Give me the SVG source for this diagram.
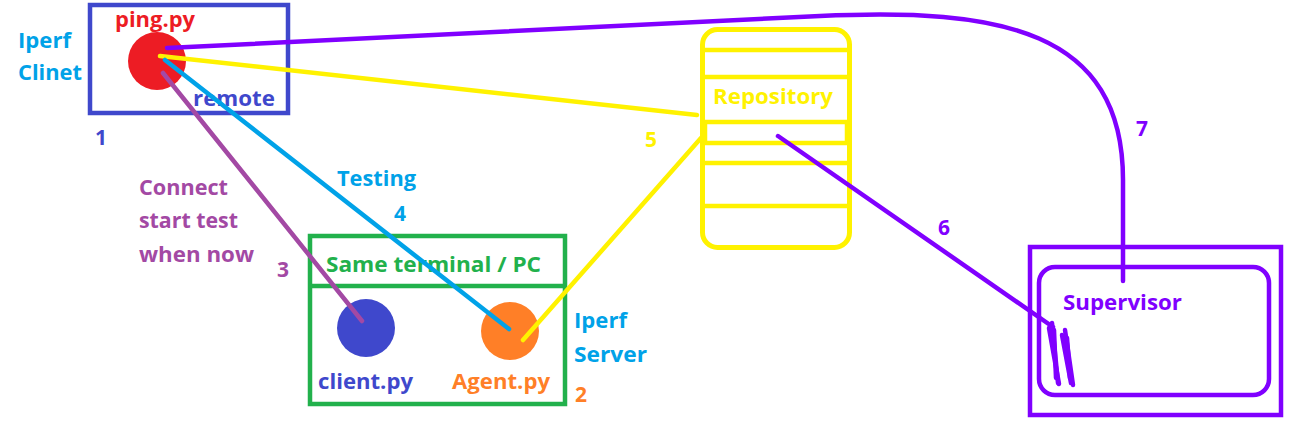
<svg xmlns="http://www.w3.org/2000/svg" width="1307" height="441" viewBox="0 0 1307 441">
<style>
text{font-family:"Open Sans","Noto Sans","DejaVu Sans",sans-serif;font-weight:bold;font-size:21px}
.blue{fill:#3F48CC}.red{fill:#ED1C24}.cyan{fill:#00A2E8}.pur{fill:#A349A4}.vio{fill:#8000FF}.yel{fill:#FFF200}.grn{fill:#22B14C}.org{fill:#FF7F27}
.ln{fill:none;stroke-width:4.5;stroke-linecap:round;stroke-linejoin:round}
</style>
<rect width="1307" height="441" fill="#fff"/>
<g id="remote">
<rect x="90" y="5" width="198" height="108" fill="none" stroke="#3F48CC" stroke-width="4.5"/>
<circle cx="157" cy="61" r="29" fill="#ED1C24"/>
<text x="115" y="27" class="red" textLength="80" lengthAdjust="spacingAndGlyphs">ping.py</text>
<text x="193" y="106" class="blue" textLength="82" lengthAdjust="spacingAndGlyphs">remote</text>
</g>
<g id="labels-left">
<text x="18" y="48" class="cyan" textLength="53" lengthAdjust="spacingAndGlyphs">Iperf</text>
<text x="18" y="80" class="cyan" textLength="64" lengthAdjust="spacingAndGlyphs">Clinet</text>
<text x="95" y="145" class="blue">1</text>
<text x="139" y="195" class="pur" textLength="89" lengthAdjust="spacingAndGlyphs">Connect</text>
<text x="139" y="228" class="pur" textLength="99" lengthAdjust="spacingAndGlyphs">start test</text>
<text x="139" y="262" class="pur" textLength="115" lengthAdjust="spacingAndGlyphs">when now</text>
<text x="277" y="277" class="pur">3</text>
<text x="337" y="186" class="cyan" textLength="79" lengthAdjust="spacingAndGlyphs">Testing</text>
<text x="394" y="221" class="cyan">4</text>
</g>
<g id="terminal">
<rect x="310" y="236" width="255" height="168" fill="none" stroke="#22B14C" stroke-width="4.5"/>
<line x1="310" y1="286" x2="565" y2="286" stroke="#22B14C" stroke-width="4.5"/>
<text x="326" y="272" class="grn" textLength="215" lengthAdjust="spacingAndGlyphs">Same terminal / PC</text>
<circle cx="366" cy="328" r="29" fill="#3F48CC"/>
<circle cx="510" cy="331" r="29" fill="#FF7F27"/>
<text x="318" y="389" class="blue" textLength="95" lengthAdjust="spacingAndGlyphs">client.py</text>
<text x="452" y="389" class="org" textLength="98" lengthAdjust="spacingAndGlyphs">Agent.py</text>
</g>
<g id="server-labels">
<text x="574" y="328" class="cyan" textLength="53" lengthAdjust="spacingAndGlyphs">Iperf</text>
<text x="574" y="362" class="cyan" textLength="73" lengthAdjust="spacingAndGlyphs">Server</text>
<text x="575" y="402" class="org">2</text>
</g>
<g id="repository">
<rect x="702.5" y="29.5" width="147" height="218" rx="15" fill="none" stroke="#FFF200" stroke-width="5"/>
<g stroke="#FFF200" stroke-width="4.5">
<line x1="702" y1="50" x2="849" y2="50"/>
<line x1="702" y1="77" x2="849" y2="77"/>
<line x1="702" y1="163" x2="849" y2="163"/>
<line x1="702" y1="206" x2="849" y2="206"/>
</g>
<rect x="705" y="122" width="142" height="21" fill="none" stroke="#FFF200" stroke-width="4.5"/>
<text x="713" y="104" class="yel" textLength="120" lengthAdjust="spacingAndGlyphs">Repository</text>
<text x="645" y="147" class="yel">5</text>
</g>
<g id="supervisor">
<rect x="1030" y="247" width="251" height="168" fill="none" stroke="#8000FF" stroke-width="4.5"/>
<rect x="1039" y="267" width="230" height="128" rx="16" fill="none" stroke="#8000FF" stroke-width="4.5"/>
<text x="1063" y="310" class="vio" textLength="119" lengthAdjust="spacingAndGlyphs">Supervisor</text>
<text x="938" y="235" class="vio">6</text>
<text x="1136" y="136" class="vio">7</text>
</g>
<g id="connectors">
<path class="ln" stroke="#8000FF" d="M167,48 L820,16 C1000,7.5 1123,30 1123,180 L1123,281"/>
<line class="ln" stroke="#FFF200" x1="160" y1="56" x2="697" y2="115"/>
<line class="ln" stroke="#00A2E8" x1="165" y1="60" x2="509" y2="329"/>
<line class="ln" stroke="#A349A4" x1="163" y1="73" x2="362" y2="321"/>
<line class="ln" stroke="#FFF200" x1="523" y1="340" x2="701" y2="138"/>
<line class="ln" stroke="#8000FF" x1="778" y1="136" x2="1053" y2="327"/>
<g class="ln" stroke="#8000FF">
<path d="M1052,323 L1058,383"/>
<path d="M1049,328 L1059,384"/>
<path d="M1054,330 L1056,378"/>
<path d="M1065,330 L1073,385"/>
<path d="M1062,335 L1071,383"/>
<path d="M1067,338 L1070,378"/>
</g>
</g>
</svg>
